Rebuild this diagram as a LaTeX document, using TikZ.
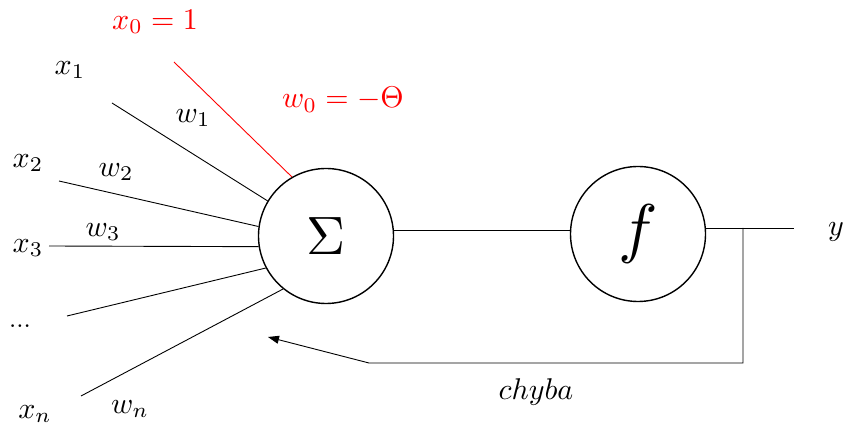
\documentclass[tikz,border=0pt]{standalone}
\usepackage{graphicx}
\usetikzlibrary{arrows.meta}
\definecolor{wred}{RGB}{255,0,0}
\newcommand{\mylbl}[1]{\scalebox{3.0}{$#1$}}
\newcommand{\mybig}[2]{\scalebox{#1}{$#2$}}
\begin{document}
\begin{tikzpicture}[x=1pt,y=-1pt,
  neuron/.style={circle,draw,line width=1.4pt,minimum size=135pt,inner sep=0pt},
  wire/.style={line width=0.9pt},
  lbl/.style={inner sep=0pt}]
\useasboundingbox (0,0) rectangle (845,427);
% neurons
\node[neuron] (sum) at (326,236) {\mybig{5.4}{\Sigma}};
\node[neuron] (act) at (638,234) {\mybig{6.6}{f}};
% input start points
\coordinate (s0) at (174,62);
\coordinate (s1) at (112,103);
\coordinate (s2) at (59,181);
\coordinate (s3) at (49,246);
\coordinate (s4) at (67,316);
\coordinate (sn) at (81,396);
\draw[wire,wred] (s0) -- (sum.120);
\draw[wire] (s1) -- (sum.149);
\draw[wire] (s2) -- (sum.172);
\draw[wire] (s3) -- (sum.189);
\draw[wire] (s4) -- (sum.208);
\draw[wire] (sn) -- (sum.231);
% main path
\draw[wire] (sum.east |- 0,230) coordinate (se) -- (act.west |- 0,230);
\coordinate (yend) at (794,228);
\coordinate (jn) at (743,228);
\draw[wire] (act.east |- yend) -- (yend);
\coordinate (fb1) at (743,363);
\coordinate (fb2) at (369,363);
\coordinate (fbt) at (268,337);
\draw[wire,-{Triangle[length=11pt,width=8pt]}] (jn) -- (fb1) -- (fb2) -- (fbt);
% labels
\node[lbl,text=wred] (lx0) at (155,22) {\mylbl{x_0 = 1}};
\node[lbl,text=wred] (lw0) at (343,100) {\mylbl{w_0 = -\Theta}};
\node[lbl] (lx1) at (70,70) {\mylbl{x_1}};
\node[lbl] (lw1) at (193,118) {\mylbl{w_1}};
\node[lbl] (lx2) at (28,163) {\mylbl{x_2}};
\node[lbl] (lw2) at (116,172) {\mylbl{w_2}};
\node[lbl] (lx3) at (28,248) {\mylbl{x_3}};
\node[lbl] (lw3) at (103,232) {\mylbl{w_3}};
\node[lbl] (ldots) at (20,326) {\scalebox{2.6}{...}};
\node[lbl] (lxn) at (35,414) {\mylbl{x_n}};
\node[lbl] (lwn) at (130,409) {\mylbl{w_n}};
\node[lbl] (ly) at (836,232) {\mylbl{y}};
\node[lbl] (lch) at (536,392) {\mylbl{chyba}};
\end{tikzpicture}
\end{document}
